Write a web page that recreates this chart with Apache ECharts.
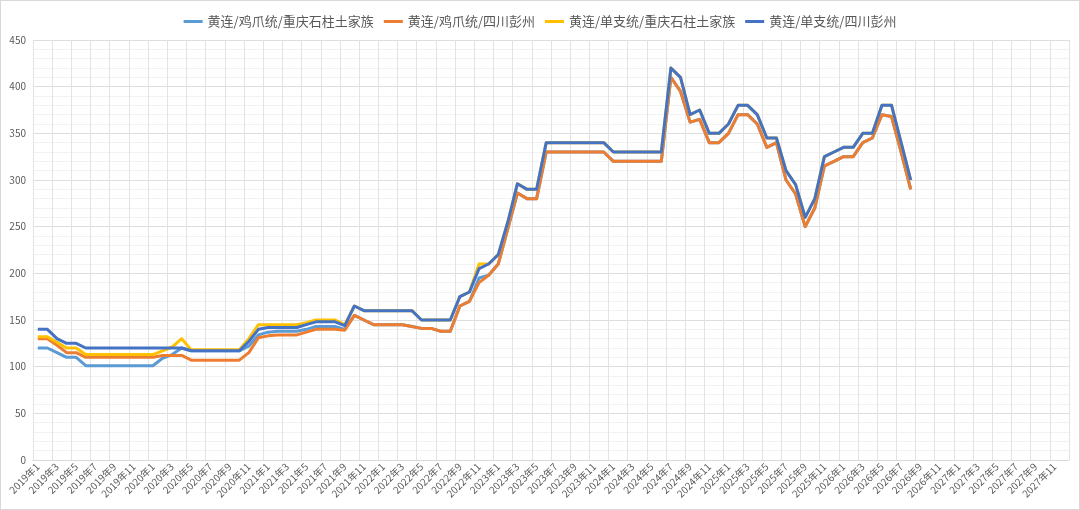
<!DOCTYPE html>
<html>
<head>
<meta charset="utf-8">
<script src="https://cdn.jsdelivr.net/npm/echarts@6/dist/echarts.min.js"></script>
<style>
html, body { margin: 0; padding: 0; background: #fff; }
#chart { width: 1080px; height: 510px; box-sizing: border-box; border: 1px solid #d9d9d9; }
</style>
</head>
<body>
<div id="chart"></div>
<script>
// 月份：2019年1 ~ 2027年12
var years = [2019, 2020, 2021, 2022, 2023, 2024, 2025, 2026, 2027];
var months = [];
for (var yi = 0; yi < years.length; yi++) {
    for (var m = 1; m <= 12; m++) {
        months.push(years[yi] + '年' + m);
    }
}

var seriesNames = ['黄连/鸡爪统/重庆石柱土家族', '黄连/鸡爪统/四川彭州', '黄连/单支统/重庆石柱土家族', '黄连/单支统/四川彭州'];
var seriesColors = ['#5B9BD5', '#ED7D31', '#FFC000', '#4472C4'];

// 黄连/鸡爪统/重庆石柱土家族
var jzSzPrice = [
    120, 120, 115, 110, 110, 101, 101, 101, 101, 101,
    101, 101, 101, 109, 113, 120, 117, 117, 117, 117,
    117, 117, 122, 134, 137, 138, 138, 138, 140, 143,
    143, 143, 140, 155, 150, 145, 145, 145, 145, 143,
    141, 141, 138, 138, 165, 170, 195, 198, 210, 248,
    286, 280, 280, 330, 330, 330, 330, 330, 330, 330,
    320, 320, 320, 320, 320, 320, 410, 395, 362, 365,
    340, 340, 350, 370, 370, 360, 335, 340, 300, 285,
    250, 270, 315, 320, 325, 325, 340, 345, 370, 368,
    330, 290
];
// 黄连/鸡爪统/四川彭州
var jzPzPrice = [
    130, 130, 123, 115, 115, 110, 110, 110, 110, 110,
    110, 110, 110, 112, 112, 112, 107, 107, 107, 107,
    107, 107, 115, 131, 133, 134, 134, 134, 137, 140,
    140, 140, 139, 155, 150, 145, 145, 145, 145, 143,
    141, 141, 138, 138, 165, 170, 190, 198, 210, 248,
    286, 280, 280, 330, 330, 330, 330, 330, 330, 330,
    320, 320, 320, 320, 320, 320, 410, 395, 362, 365,
    340, 340, 350, 370, 370, 360, 335, 340, 300, 285,
    250, 270, 315, 320, 325, 325, 340, 345, 370, 368,
    330, 290
];
// 黄连/单支统/重庆石柱土家族
var dzSzPrice = [
    132, 132, 126, 120, 120, 113, 113, 113, 113, 113,
    113, 113, 113, 117, 121, 130, 118, 118, 118, 118,
    118, 118, 130, 145, 145, 145, 145, 145, 147, 150,
    150, 150, 145, 165, 160, 160, 160, 160, 160, 160,
    150, 150, 150, 150, 175, 180, 210, 210, 220, 255,
    296, 290, 290, 340, 340, 340, 340, 340, 340, 340,
    330, 330, 330, 330, 330, 330, 420, 410, 370, 375,
    350, 350, 360, 380, 380, 370, 345, 345, 310, 295,
    260, 280, 325, 330, 335, 335, 350, 350, 380, 380,
    340, 300
];
// 黄连/单支统/四川彭州
var dzPzPrice = [
    140, 140, 130, 125, 125, 120, 120, 120, 120, 120,
    120, 120, 120, 120, 120, 120, 117, 117, 117, 117,
    117, 117, 127, 140, 142, 142, 142, 142, 145, 148,
    148, 148, 144, 165, 160, 160, 160, 160, 160, 160,
    150, 150, 150, 150, 175, 180, 205, 210, 220, 255,
    296, 290, 290, 340, 340, 340, 340, 340, 340, 340,
    330, 330, 330, 330, 330, 330, 420, 410, 370, 375,
    350, 350, 360, 380, 380, 370, 345, 345, 310, 295,
    260, 280, 325, 330, 335, 335, 350, 350, 380, 380,
    340, 300
];

var allData = [jzSzPrice, jzPzPrice, dzSzPrice, dzPzPrice];

var chart = echarts.init(document.getElementById('chart'));

var series = [];
for (var i = 0; i < seriesNames.length; i++) {
    series.push({
        name: seriesNames[i],
        type: 'line',
        data: allData[i],
        symbol: 'none',
        showSymbol: false,
        color: seriesColors[i],
        lineStyle: { width: 3, color: seriesColors[i], join: 'round' }
    });
}

chart.setOption({
    animation: false,
    backgroundColor: '#fff',
    textStyle: { fontFamily: '"Noto Sans CJK SC", "Noto Sans", sans-serif' },
    legend: {
        top: 9,
        left: 'center',
        icon: 'rect',
        itemWidth: 19,
        itemHeight: 3,
        itemGap: 10,
        textStyle: { fontSize: 13, color: '#595959' },
        data: seriesNames
    },
    grid: { left: 32, right: 10, top: 39, bottom: 49, containLabel: false },
    xAxis: {
        type: 'category',
        data: months,
        boundaryGap: true,
        axisLine: { lineStyle: { color: '#d9d9d9' } },
        axisTick: { show: false },
        axisLabel: { interval: 1, rotate: 45, fontSize: 10, color: '#595959', margin: 5 },
        splitLine: { show: true, interval: 1, lineStyle: { color: '#e3e3e3', width: 1 } }
    },
    yAxis: {
        type: 'value',
        min: 0,
        max: 450,
        interval: 50,
        axisLine: { show: false },
        axisTick: { show: false },
        axisLabel: { fontSize: 10, color: '#595959', margin: 7 },
        splitLine: { lineStyle: { color: '#dedede' } },
        minorTick: { show: false, splitNumber: 5 },
        minorSplitLine: { show: true, lineStyle: { color: '#f2f2f2' } }
    },
    series: series
});
</script>
</body>
</html>
